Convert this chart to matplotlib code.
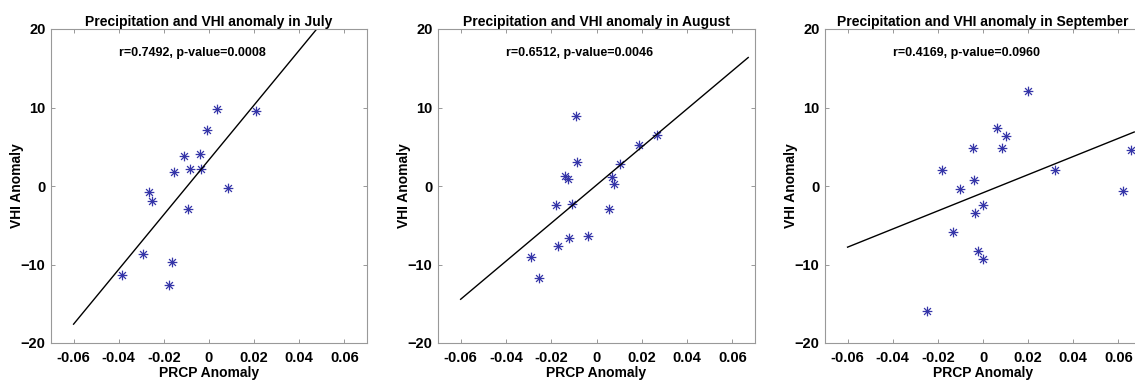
import numpy as np
import matplotlib
matplotlib.use("Agg")
import matplotlib.pyplot as plt
from matplotlib.path import Path

plt.rcParams['font.family'] = ['Liberation Sans', 'DejaVu Sans']
plt.rcParams['font.weight'] = 'bold'

months = ['July', 'August', 'September']

# PRCP anomaly (x) and VHI anomaly (y)
jul_x = [0.0036, 0.0210, -0.0011, -0.0110, -0.0039, -0.0082, -0.0035, -0.0154,
         0.0082, -0.0264, -0.0251, -0.0091, -0.0292, -0.0166, -0.0384, -0.0175]
jul_y = [9.87, 9.53, 7.10, 3.83, 4.04, 2.21, 2.21, 1.83,
         -0.30, -0.81, -1.91, -2.89, -8.60, -9.66, -11.40, -12.55]

aug_x = [-0.0092, -0.0085, -0.0140, -0.0124, 0.0102, 0.0186, 0.0269, 0.0069, 0.0076,
         -0.0177, -0.0107, 0.0057, -0.0123, -0.0037, -0.0171, -0.0290, -0.0253]
aug_y = [8.98, 3.02, 1.32, 0.89, 2.81, 5.23, 6.51, 1.19, 0.26,
         -2.38, -2.30, -2.98, -6.60, -6.34, -7.70, -9.02, -11.74]

sep_x = [0.0199, 0.0063, 0.0100, -0.0044, 0.0082, 0.0654, -0.0182, 0.0317, -0.0038,
         -0.0100, 0.0619, 0.0000, -0.0034, -0.0135, -0.0021, -0.0001, -0.0246]
sep_y = [12.09, 7.36, 6.43, 4.89, 4.81, 4.55, 2.00, 2.04, 0.81,
         -0.34, -0.64, -2.43, -3.49, -5.87, -8.26, -9.28, -15.91]

# fitted line (slope, intercept) and stats text
fit_slope = [349.0, 242.5, 115.5]
fit_intercept = [3.34, 0.12, -0.86]
r_values = [0.7492, 0.6512, 0.4169]
p_values = [0.0008, 0.0046, 0.0960]

fit_x = [-0.06, 0.067]
xticks = [-0.06, -0.04, -0.02, 0, 0.02, 0.04, 0.06]
xticklabels = ['-0.06', '-0.04', '-0.02', '0', '0.02', '0.04', '0.06']
yticks = [-20, -10, 0, 10, 20]

xs = [jul_x, aug_x, sep_x]
ys = [jul_y, aug_y, sep_y]

W, H = 1135, 381
fig = plt.figure(figsize=(W / 100, H / 100), dpi=100)

# axes boxes in pixels: left, right, top, bottom (last one runs off the edge)
boxes = [(51, 367, 29, 343), (438, 755, 29, 343), (825, 1141, 29, 343)]

# MATLAB style asterisk: plus and cross on top of each other
codes = [Path.MOVETO, Path.LINETO, Path.MOVETO, Path.LINETO,
         Path.MOVETO, Path.LINETO, Path.MOVETO, Path.LINETO]
verts = [(-1, 0), (1, 0), (0, -1), (0, 1),
         (-0.707, -0.707), (0.707, 0.707), (-0.707, 0.707), (0.707, -0.707)]
star_marker = Path(verts, codes)

for i, (l, r, t, b) in enumerate(boxes):
    ax = fig.add_axes([l / W, 1 - b / H, (r - l) / W, (b - t) / H])
    ax.plot(xs[i], ys[i], linestyle='none', marker=star_marker, markersize=7,
            markeredgewidth=0.9, color='#3535a8')
    fx = np.array(fit_x)
    ax.plot(fx, fit_slope[i] * fx + fit_intercept[i], color='black', linewidth=1.0)
    ax.text(-0.04, 17, 'r=%.4f, p-value=%.4f' % (r_values[i], p_values[i]),
            fontsize=9, fontweight='bold', va='center', ha='left')
    ax.set_xlim(-0.07, 0.07)
    ax.set_ylim(-20, 20)
    ax.set_xticks(xticks)
    ax.set_xticklabels(xticklabels)
    ax.set_yticks(yticks)
    ax.tick_params(direction='in', top=True, right=True, length=3, width=0.6,
                   color='#888888', labelsize=10.5)
    ax.tick_params(axis='x', pad=6)
    ax.tick_params(axis='y', pad=4)
    for lab in ax.get_xticklabels() + ax.get_yticklabels():
        lab.set_fontweight('bold')
    for s in ax.spines.values():
        s.set_color('#999999')
        s.set_linewidth(0.8)
    ax.set_xlabel('PRCP Anomaly', fontsize=10, fontweight='bold')
    ax.set_ylabel('VHI Anomaly', fontsize=10, fontweight='bold')
    ax.xaxis.set_label_coords(0.5, -0.073)
    ax.yaxis.set_label_coords(-0.085, 0.5)
    ax.set_title('Precipitation and VHI anomaly in ' + months[i],
                 fontsize=10, fontweight='bold', pad=2)

fig.savefig('out.png', dpi=100)
